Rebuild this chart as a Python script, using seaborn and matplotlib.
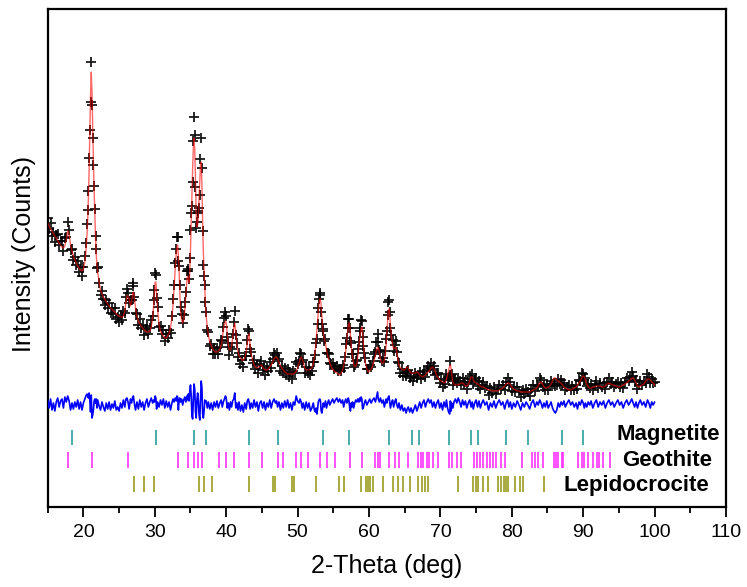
import numpy as np
import pandas as pd
import matplotlib
matplotlib.use("Agg")
import matplotlib.pyplot as plt
import seaborn as sns

# ---------------- data ----------------
two_theta = [
    15.0, 15.2, 15.4, 15.6, 15.8, 16.0, 16.2, 16.4, 16.6, 16.8,
    17.0, 17.2, 17.4, 17.6, 17.8, 18.0, 18.2, 18.4, 18.6, 18.8,
    19.0, 19.2, 19.4, 19.6, 19.8, 20.0, 20.2, 20.35, 20.5, 20.6,
    20.7, 20.8, 20.9, 21.0, 21.1, 21.2, 21.3, 21.4, 21.5, 21.6,
    21.7, 21.8, 21.9, 22.0, 22.2, 22.4, 22.6, 22.8, 23.0, 23.2,
    23.4, 23.6, 23.8, 24.0, 24.2, 24.4, 24.6, 24.8, 25.0, 25.2,
    25.4, 25.6, 25.8, 25.95, 26.1, 26.25, 26.4, 26.6, 26.75, 26.9,
    27.0, 27.15, 27.3, 27.5, 27.7, 27.9, 28.1, 28.3, 28.5, 28.7,
    28.9, 29.1, 29.3, 29.5, 29.7, 29.85, 29.95, 30.05, 30.15, 30.25,
    30.4, 30.6, 30.8, 31.0, 31.2, 31.4, 31.6, 31.8, 32.0, 32.2,
    32.4, 32.55, 32.7, 32.85, 33.0, 33.1, 33.2, 33.3, 33.4, 33.5,
    33.6, 33.75, 33.9, 34.05, 34.2, 34.35, 34.5, 34.6, 34.7, 34.8,
    34.9, 35.0, 35.1, 35.2, 35.3, 35.4, 35.5, 35.6, 35.7, 35.8,
    35.9, 36.0, 36.1, 36.2, 36.3, 36.4, 36.5, 36.6, 36.7, 36.8,
    36.9, 37.0, 37.1, 37.2, 37.35, 37.5, 37.7, 37.9, 38.1, 38.3,
    38.5, 38.7, 38.9, 39.1, 39.3, 39.45, 39.6, 39.75, 39.9, 40.0,
    40.15, 40.3, 40.45, 40.6, 40.75, 40.9, 41.05, 41.2, 41.35, 41.5,
    41.65, 41.8, 42.0, 42.2, 42.4, 42.6, 42.8, 42.95, 43.1, 43.2,
    43.35, 43.5, 43.7, 43.9, 44.1, 44.3, 44.5, 44.7, 44.9, 45.1,
    45.3, 45.5, 45.7, 45.9, 46.1, 46.3, 46.5, 46.7, 46.9, 47.05,
    47.2, 47.4, 47.6, 47.8, 48.0, 48.2, 48.4, 48.6, 48.8, 49.0,
    49.2, 49.4, 49.6, 49.8, 50.0, 50.2, 50.35, 50.5, 50.65, 50.8,
    51.0, 51.2, 51.4, 51.6, 51.8, 52.0, 52.2, 52.35, 52.5, 52.6,
    52.7, 52.8, 52.9, 53.0, 53.1, 53.2, 53.3, 53.4, 53.5, 53.6,
    53.75, 53.9, 54.05, 54.2, 54.35, 54.5, 54.7, 54.9, 55.1, 55.3,
    55.5, 55.7, 55.9, 56.1, 56.3, 56.45, 56.6, 56.75, 56.9, 57.0,
    57.1, 57.2, 57.3, 57.4, 57.5, 57.6, 57.7, 57.85, 58.0, 58.15,
    58.3, 58.45, 58.6, 58.7, 58.8, 58.9, 59.0, 59.1, 59.2, 59.35,
    59.5, 59.7, 59.9, 60.1, 60.3, 60.5, 60.7, 60.9, 61.05, 61.2,
    61.3, 61.45, 61.6, 61.8, 62.0, 62.15, 62.3, 62.4, 62.5, 62.6,
    62.7, 62.8, 62.9, 63.0, 63.15, 63.3, 63.45, 63.6, 63.75, 63.9,
    64.05, 64.2, 64.4, 64.6, 64.8, 65.0, 65.2, 65.35, 65.5, 65.7,
    65.9, 66.1, 66.3, 66.5, 66.7, 66.9, 67.1, 67.3, 67.5, 67.7,
    67.9, 68.1, 68.3, 68.5, 68.7, 68.9, 69.1, 69.3, 69.5, 69.7,
    69.9, 70.1, 70.3, 70.5, 70.7, 70.85, 71.0, 71.15, 71.3, 71.4,
    71.5, 71.6, 71.75, 71.9, 72.1, 72.3, 72.5, 72.7, 72.9, 73.1,
    73.3, 73.5, 73.7, 73.9, 74.1, 74.3, 74.45, 74.6, 74.8, 75.0,
    75.2, 75.4, 75.6, 75.8, 76.0, 76.25, 76.5, 76.75, 77.0, 77.25,
    77.5, 77.75, 78.0, 78.25, 78.5, 78.75, 79.0, 79.2, 79.4, 79.6,
    79.8, 80.0, 80.25, 80.5, 80.75, 81.0, 81.25, 81.5, 81.75, 82.0,
    82.25, 82.5, 82.75, 83.0, 83.25, 83.5, 83.7, 83.9, 84.1, 84.3,
    84.5, 84.7, 84.9, 85.1, 85.3, 85.5, 85.7, 85.9, 86.1, 86.3,
    86.5, 86.7, 86.9, 87.1, 87.3, 87.5, 87.75, 88.0, 88.25, 88.5,
    88.75, 89.0, 89.2, 89.4, 89.6, 89.8, 90.0, 90.15, 90.3, 90.5,
    90.7, 90.9, 91.1, 91.35, 91.6, 91.85, 92.1, 92.35, 92.6, 92.85,
    93.1, 93.35, 93.6, 93.85, 94.1, 94.35, 94.6, 94.85, 95.1, 95.35,
    95.6, 95.85, 96.1, 96.35, 96.6, 96.8, 97.0, 97.2, 97.4, 97.6,
    97.8, 98.0, 98.25, 98.5, 98.75, 99.0, 99.2, 99.4, 99.6, 99.8,
    100.0,
]

# calculated (Rietveld fit) intensity, counts
y_calc = [
    284, 281, 278, 276, 273, 271, 269, 266, 264, 262,
    260, 259, 261, 267, 276, 273, 262, 256, 251, 247,
    244, 241, 239, 237, 236, 238, 245, 255, 272, 287,
    309, 337, 372, 412, 435, 415, 379, 347, 317, 292,
    269, 252, 242, 235, 225, 217, 213, 210, 208, 205,
    203, 201, 199, 198, 196, 195, 193, 192, 191, 190,
    190, 191, 196, 204, 211, 211, 208, 201, 205, 213,
    215, 209, 199, 190, 186, 183, 181, 179, 177, 176,
    175, 175, 176, 180, 189, 202, 214, 225, 225, 213,
    197, 182, 176, 173, 171, 169, 169, 171, 174, 179,
    189, 202, 219, 237, 254, 261, 262, 251, 237, 215,
    197, 187, 184, 187, 197, 212, 227, 231, 227, 224,
    235, 257, 285, 312, 339, 359, 369, 357, 327, 292,
    280, 282, 292, 309, 327, 342, 345, 322, 285, 255,
    237, 217, 202, 191, 180, 172, 165, 161, 158, 156,
    155, 155, 156, 158, 162, 168, 177, 183, 186, 184,
    173, 162, 157, 157, 160, 169, 179, 184, 175, 162,
    155, 151, 149, 147, 147, 149, 155, 163, 172, 173,
    162, 153, 147, 142, 140, 139, 140, 141, 142, 140,
    138, 137, 137, 138, 140, 142, 145, 148, 150, 150,
    148, 145, 141, 139, 137, 135, 134, 133, 133, 133,
    133, 133, 134, 136, 139, 144, 148, 150, 148, 145,
    139, 137, 137, 137, 138, 139, 143, 150, 159, 167,
    177, 187, 196, 203, 208, 208, 201, 191, 181, 174,
    168, 164, 157, 152, 148, 144, 140, 138, 136, 135,
    134, 133, 132, 134, 137, 141, 147, 157, 167, 175,
    181, 184, 182, 172, 162, 155, 150, 143, 140, 141,
    144, 152, 162, 169, 175, 179, 180, 174, 164, 152,
    144, 138, 135, 136, 138, 141, 146, 152, 157, 160,
    159, 154, 148, 144, 144, 147, 153, 162, 174, 187,
    197, 198, 192, 182, 170, 162, 158, 159, 160, 155,
    148, 142, 139, 138, 137, 137, 139, 140, 139, 136,
    134, 134, 134, 134, 135, 134, 132, 131, 130, 131,
    132, 134, 135, 137, 139, 140, 138, 135, 131, 129,
    127, 126, 125, 124, 125, 128, 132, 137, 141, 142,
    138, 131, 125, 123, 122, 122, 122, 123, 124, 124,
    123, 121, 121, 123, 126, 130, 130, 127, 125, 124,
    123, 122, 121, 120, 120, 119, 118, 117, 117, 116,
    116, 116, 116, 117, 118, 119, 121, 123, 124, 124,
    122, 120, 118, 117, 116, 116, 115, 115, 115, 115,
    115, 115, 116, 117, 118, 119, 121, 124, 125, 123,
    120, 119, 119, 120, 121, 123, 126, 129, 129, 127,
    126, 125, 124, 122, 120, 119, 118, 117, 117, 118,
    119, 120, 122, 124, 126, 129, 131, 130, 127, 123,
    120, 119, 119, 120, 120, 121, 121, 121, 120, 120,
    121, 123, 124, 123, 122, 122, 121, 120, 120, 121,
    122, 123, 124, 126, 127, 129, 129, 127, 124, 121,
    120, 121, 122, 123, 126, 128, 128, 127, 125, 124,
    122,
]

# difference curve (observed - calculated), counts
y_diff = [
    5, -3, 6, -5, 2, -6, 3, 7, -2, 4,
    6, -3, 8, 3, 9, 4, -5, 2, -4, 3,
    -2, 5, -4, 3, -5, 2, 6, 9, 11, 10,
    7, 12, 5, -7, 10, -13, -10, -5, 4, 6,
    2, 6, -3, 5, -1, -5, 3, -2, -6, 2,
    -4, 3, -5, 1, -3, 4, -5, -2, -6, 2,
    -3, 5, -2, 6, 7, 3, -4, 6, 2, 8,
    9, 1, -5, 3, -4, 5, -2, 3, -5, 2,
    6, -2, 3, 7, 2, 5, 3, 9, 7, -4,
    3, -2, 5, 0, 6, -3, 4, -2, 3, -5,
    2, 6, 3, 7, 4, 9, 8, -5, 4, 7,
    3, 6, 0, 5, 8, 3, 9, 5, 11, 4,
    14, 20, 9, -11, -14, 7, 21, 15, -7, -13,
    5, 12, 4, -10, -15, 6, 24, 17, -9, -13,
    -6, 5, 3, 4, -3, 3, -4, 2, -5, 3,
    -2, 4, -3, 2, 5, -2, 3, 6, 9, 7,
    -3, 2, -5, 3, -2, 4, 6, 12, -3, 2,
    -5, 3, -6, 0, -7, 2, -4, 4, 6, 3,
    -4, 2, -3, 5, -2, 3, -6, 2, 4, -3,
    3, -5, 2, -2, 5, -3, 3, 6, 2, 4,
    -2, 3, -5, 2, -3, 4, -2, 5, -3, 2,
    -5, 3, 0, 9, 4, 2, 6, 3, -3, 2,
    -5, 3, -3, 2, -6, -3, 2, -5, -7, -3,
    -9, -4, 3, 5, 6, 4, -6, -8, -3, 2,
    -2, 4, -3, 2, 5, 0, 3, 6, 2, 5,
    7, 3, 6, 2, 5, -2, 3, 6, 2, 4,
    7, 4, -3, -6, 2, -2, 3, -3, 2, 5,
    3, 6, 3, 7, 4, 8, 6, -4, -3, 2,
    5, 0, 3, 6, 2, 5, 7, 3, 8, 13,
    6, 3, 7, 2, 5, -2, 3, 6, 2, 5,
    8, 9, 3, -3, 2, 5, -2, 3, 6, 0,
    -3, 2, -5, 0, -6, -3, -8, -4, -2, -7,
    -3, -8, -4, 0, -6, -2, 3, -3, 2, 5,
    -2, 3, 6, 2, 5, -2, 3, -3, 2, 5,
    -3, 2, -5, 3, -2, 5, -3, -7, -9, 4,
    -6, 2, -3, 3, 6, 2, 7, 3, -2, 5,
    0, 4, -3, 2, 5, -2, 3, -4, 2, 5,
    -2, 4, -3, 2, 5, 0, 3, -5, 2, -2,
    4, -3, 2, 5, 0, 3, -4, 2, 5, -2,
    3, -4, 2, -2, 4, 0, -5, 2, -2, 3,
    0, -4, 2, 5, -2, 3, 0, 5, 2, -3,
    2, -2, 4, -3, 0, 3, -3, -6, -8, -5,
    2, -2, 3, 0, 4, -2, 2, 5, 0, 3,
    -2, 2, -4, 3, 0, 5, 2, -3, 2, -2,
    3, 0, 4, -3, 2, 5, -2, 3, 0, 4,
    -3, 2, 5, 0, 3, -2, 2, 5, 0, 3,
    -3, 2, 5, 0, 3, 6, 2, -2, 3, -3,
    2, 5, 0, 3, -2, 5, 2, -3, 3, 0,
    3,
]

# reflection positions (2-theta, deg)
magnetite_pos = [18.40, 30.21, 35.53, 37.21, 43.24, 47.30, 53.60, 57.16, 62.76,
                 65.98, 67.04, 71.25, 74.24, 75.22, 79.19, 82.23, 87.07, 89.97]
geothite_pos = [17.80, 21.20, 26.29, 33.21, 34.69, 35.45, 36.01, 36.61, 38.99,
                39.93, 41.13, 43.19, 44.97, 47.21, 47.91, 49.82, 50.48, 51.41,
                53.10, 54.08, 55.24, 57.34, 58.98, 60.84, 61.22, 61.54, 62.84,
                63.64, 64.24, 65.50, 66.90, 67.24, 67.60, 68.08, 68.45, 69.00,
                69.66, 71.25, 71.58, 72.28, 72.84, 74.75, 75.17, 75.55, 76.01,
                76.48, 76.95, 77.41, 77.79, 78.45, 79.05, 81.39, 82.79, 83.25,
                83.71, 84.33, 85.91, 86.19, 86.43, 86.99, 87.21, 89.31, 89.79,
                90.11, 90.71, 91.41, 91.89, 92.25, 92.73, 93.75]
lepidocrocite_pos = [27.13, 28.45, 29.89, 36.19, 36.85, 37.97, 43.24, 46.60, 46.83,
                     49.26, 49.50, 52.58, 55.76, 56.50, 58.84, 59.58, 59.90, 60.18,
                     60.60, 61.92, 63.40, 64.10, 64.80, 65.74, 66.90, 67.38, 67.84,
                     68.31, 72.51, 74.61, 74.99, 75.31, 76.01, 76.71, 78.11, 78.45,
                     78.91, 79.19, 79.51, 80.45, 81.15, 81.53, 84.50]
phase_names = ["Magnetite", "Geothite", "Lepidocrocite"]

x_ticks = [20, 30, 40, 50, 60, 70, 80, 90, 100, 110]

# ---------------- table ----------------
df = pd.DataFrame({"two_theta": two_theta, "calc": y_calc, "diff": y_diff})
df["obs"] = df["calc"] + df["diff"]
diff_offset = 102
df["diff_shifted"] = df["diff"] + diff_offset

# ---------------- style ----------------
sns.set_theme(style="white")
plt.rcParams["font.family"] = ["Liberation Sans", "DejaVu Sans"]

fig = plt.figure(figsize=(7.47, 5.87), dpi=100)
ax = fig.add_axes([47.7 / 747, 1 - 507 / 587, (726 - 47.7) / 747, (507 - 9) / 587])

sns.scatterplot(data=df, x="two_theta", y="obs", marker="+", s=42, color="black",
                linewidth=1.3, alpha=0.9, ax=ax, legend=False, zorder=2)
sns.lineplot(data=df, x="two_theta", y="calc", color="#ff0000", linewidth=1.0,
             alpha=0.6, estimator=None, sort=False, ax=ax, legend=False, zorder=3)
sns.lineplot(data=df, x="two_theta", y="diff_shifted", color="#0000ff", linewidth=1.2,
             estimator=None, sort=False, ax=ax, legend=False, zorder=3)

# reflection markers
ax.vlines(magnetite_pos, 62, 77, colors="#2a9d9d", linewidth=1.2)
ax.vlines(geothite_pos, 39, 55, colors="#ff33ff", linewidth=1.2)
ax.vlines(lepidocrocite_pos, 15, 31, colors="#9c9c22", linewidth=1.2)

label_fs = 16
ax.text(94.7, 67, phase_names[0], fontsize=label_fs, fontweight="bold",
        ha="left", va="baseline", color="black")
ax.text(95.4, 40.5, phase_names[1], fontsize=label_fs, fontweight="bold",
        ha="left", va="baseline", color="black")
ax.text(87.3, 15.5, phase_names[2], fontsize=label_fs, fontweight="bold",
        ha="left", va="baseline", color="black")

# axes
ax.set_xlim(15, 110)
ax.set_ylim(0, 498)
ax.set_xticks(x_ticks)
ax.set_xticklabels([str(t) for t in x_ticks])
ax.set_xticks(np.arange(15, 111, 10), minor=True)
ax.set_yticks([])
ax.tick_params(axis="x", which="major", direction="out", length=7, width=1.3,
               labelsize=14, pad=5, bottom=True, colors="black")
ax.tick_params(axis="x", which="minor", direction="out", length=4.3, width=1.3,
               bottom=True, colors="black")
for sp in ax.spines.values():
    sp.set_visible(True)
    sp.set_color("black")
    sp.set_linewidth(1.6)

ax.set_xlabel("2-Theta (deg)", fontsize=18, color="black", va="center")
ax.xaxis.set_label_coords((387 - 47.7) / 678.3, -(566 - 507) / 498)
ax.set_ylabel("Intensity (Counts)", fontsize=18, color="black", va="center")
ax.yaxis.set_label_coords((24 - 47.7) / 678.3, (507 - 254) / 498)
ax.grid(False)

fig.savefig("out.png", dpi=100)
